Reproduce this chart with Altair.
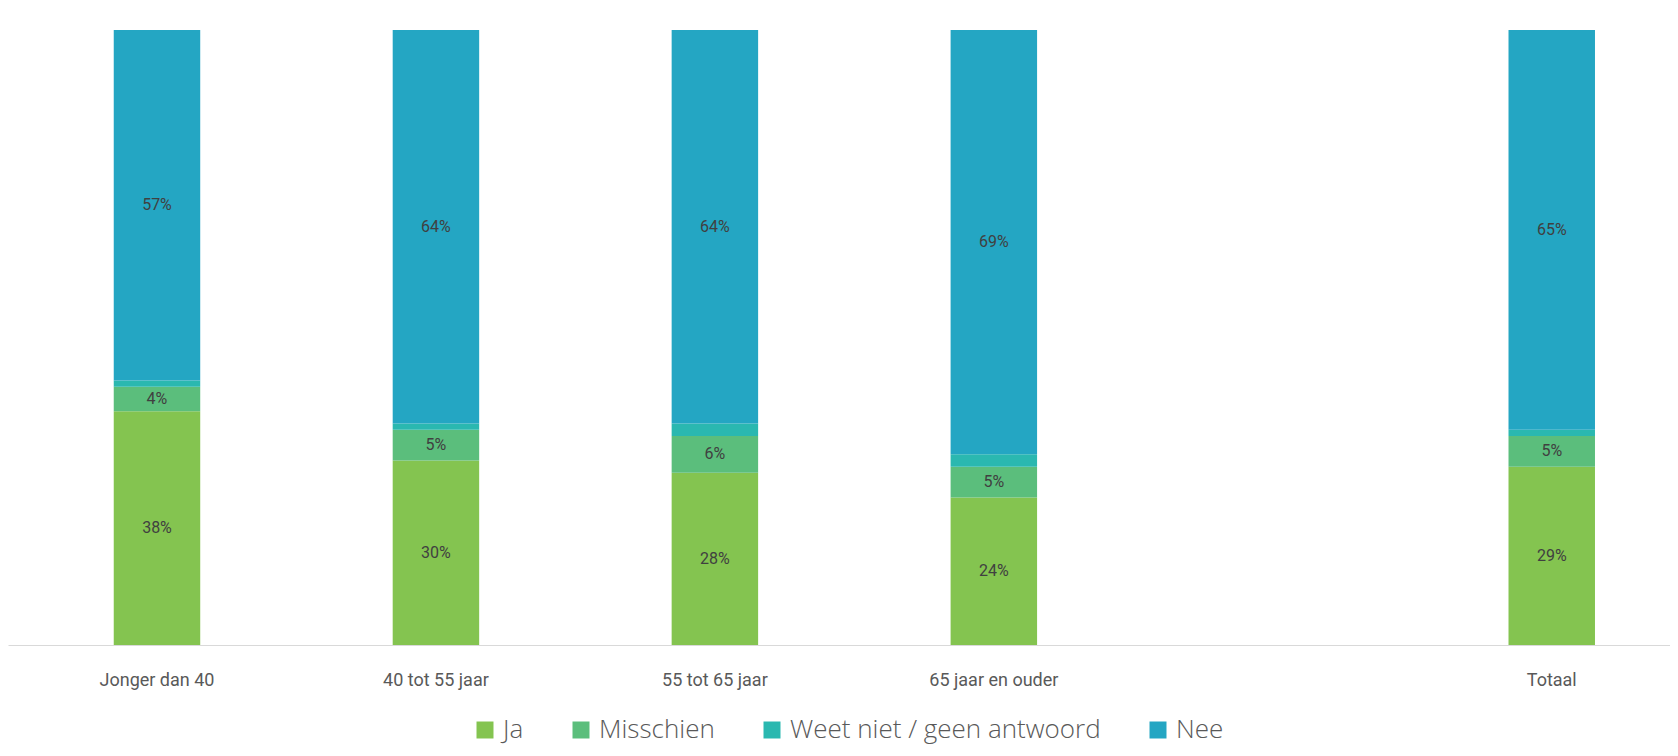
import altair as alt
import pandas as pd

# ---- data ----
categories = ["Jonger dan 40", "40 tot 55 jaar", "55 tot 65 jaar", "65 jaar en ouder", " ", "Totaal"]
bar_categories = ["Jonger dan 40", "40 tot 55 jaar", "55 tot 65 jaar", "65 jaar en ouder", "Totaal"]
answers = ["Ja", "Misschien", "Weet niet / geen antwoord", "Nee"]
ja = [38, 30, 28, 24, 29]
misschien = [4, 5, 6, 5, 5]
weet_niet = [1, 1, 2, 2, 1]
nee = [57, 64, 64, 69, 65]
colors = ["#84C450", "#5BBE7C", "#2AB8B0", "#24A6C3"]

rows = []
for i, cat in enumerate(bar_categories):
    for k, (ans, series) in enumerate(zip(answers, [ja, misschien, weet_niet, nee])):
        rows.append({"category": cat, "answer": ans, "value": series[i], "order": k})
df = pd.DataFrame(rows)

base = alt.Chart(df).transform_stack(
    stack="value",
    groupby=["category"],
    as_=["v0", "v1"],
    sort=[alt.SortField("order", order="ascending")],
).transform_calculate(
    mid="(datum.v0 + datum.v1) / 2",
    label="datum.value + '%'",
)

xscale = alt.Scale(domain=categories, paddingInner=0.69, paddingOuter=0.324, align=0.585)
xenc = alt.X(
    "category:N",
    scale=xscale,
    axis=alt.Axis(
        title=None,
        labelAngle=0,
        ticks=False,
        domainColor="#d9d9d9",
        domainWidth=1,
        labelFont="Roboto",
        labelFontSize=18,
        labelColor="#595959",
        labelPadding=26,
    ),
)
yscale = alt.Scale(domain=[0, 100])

bars = base.mark_bar().encode(
    x=xenc,
    y=alt.Y("v0:Q", scale=yscale, axis=None),
    y2="v1:Q",
    color=alt.Color(
        "answer:N",
        scale=alt.Scale(domain=answers, range=colors),
        legend=alt.Legend(
            title=None,
            orient="none",
            legendX=464,
            legendY=687,
            direction="horizontal",
            symbolType="square",
            symbolSize=289,
            symbolStrokeWidth=0,
            labelFont="Open Sans",
            labelFontWeight=300,
            labelFontSize=26,
            labelColor="#595959",
            labelOffset=5,
            columnPadding=44,
            labelLimit=600,
        ),
    ),
    order=alt.Order("order:Q"),
)

labels = base.transform_filter(
    "datum.answer != 'Weet niet / geen antwoord'"
).mark_text(font="Roboto", fontSize=16, color="#404040").encode(
    x=alt.X("category:N", scale=xscale),
    y=alt.Y("mid:Q", scale=yscale),
    text="label:N",
)

chart = (
    alt.layer(bars, labels)
    .properties(
        width=1662,
        height=615,
        padding={"left": 0, "top": 22, "right": 0, "bottom": 103},
        autosize=alt.AutoSizeParams(type="none"),
        background="white",
    )
    .configure_view(stroke=None)
)

chart.save("out.html", embed_options={"renderer": "svg", "actions": False})
